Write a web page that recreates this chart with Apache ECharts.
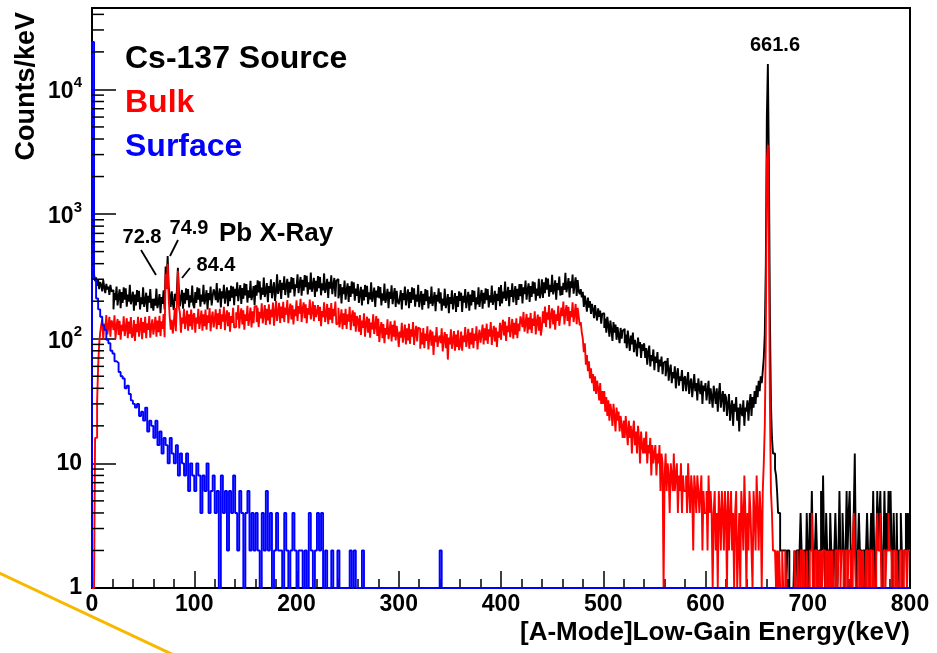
<!DOCTYPE html>
<html><head><meta charset="utf-8">
<script src="https://cdn.jsdelivr.net/npm/echarts@6/dist/echarts.min.js"></script>
<style>html,body{margin:0;padding:0;background:#fff}#c{width:937px;height:653px}</style>
</head><body><div id="c"></div>
<script>
// ---- data (Counts/keV; bins start at 0 keV) ----
const sourceBinWidth = 1;   // keV
const bulkBinWidth = 1;     // keV
const surfaceBinWidth = 2;  // keV
const seriesNames = ['Cs-137 Source', 'Bulk', 'Surface'];
const seriesColors = ['#000000', '#ff0000', '#0000ff'];
const sourceCounts = [
 24000,800,330,290,310,265,300,250,285,270,240,295,258,232,275,248,262,225,270,240,
 245,172,232,204,262,185,219,249,176,237,194,258,206,254,181,226,198,271,189,211,
 238,168,226,185,246,197,242,172,215,189,258,180,201,234,164,221,195,250,176,209,
 168,210,184,252,176,196,228,160,216,190,244,172,380,300,460,260,220,180,240,192,
 170,229,201,240,370,240,182,216,246,174,233,191,254,204,250,178,223,195,267,187,
 176,237,194,258,206,254,181,226,198,271,189,211,245,172,232,204,262,185,219,249,
 233,204,280,195,218,253,178,240,211,271,191,226,258,182,244,200,266,213,262,186,
 251,220,283,200,237,269,190,255,209,278,223,274,195,244,213,292,204,227,264,186,
 270,221,294,235,289,206,257,225,309,216,240,279,196,265,233,299,211,250,284,201,
 239,328,229,255,296,208,281,247,317,224,265,302,213,286,234,312,250,307,218,273,
 257,329,232,275,313,221,297,243,324,259,319,227,284,248,340,238,265,308,216,292,
 239,318,254,313,223,278,244,334,233,260,302,212,286,252,323,228,270,307,217,292,
 302,211,235,274,192,259,228,293,206,245,278,197,264,216,288,230,283,202,252,221,
 275,194,230,261,185,248,203,270,216,266,189,236,207,284,198,221,257,180,243,214,
 264,211,260,185,231,202,277,194,216,251,176,238,209,268,189,224,255,180,242,198,
 189,211,245,172,232,204,262,185,219,249,176,237,194,258,206,254,181,226,198,271,
 179,212,241,171,229,187,250,200,245,175,218,191,262,183,204,237,166,225,198,254,
 192,236,168,210,184,252,176,196,228,160,216,190,244,172,204,232,164,220,180,240,
 201,234,164,221,195,250,176,209,238,168,226,185,246,197,242,172,215,189,258,180,
 216,246,174,233,191,254,204,250,178,223,195,267,187,208,242,170,229,201,259,182,
 269,192,239,210,287,201,223,260,182,246,217,278,196,233,264,187,251,205,274,219,
 274,192,259,228,293,206,245,278,197,264,216,288,230,283,202,252,221,302,211,235,
 299,212,284,232,310,248,304,217,271,237,325,227,253,294,206,279,245,315,222,263,
 225,281,247,338,236,263,306,214,289,255,327,230,273,311,220,295,240,228,250,215,
 238,180,222,196,165,214,178,200,158,190,172,146,186,160,140,175,150,168,132,158,
 160,122,145,112,150,128,104,140,118,96,136,112,130,98,124,106,92,122,100,116,
 120,92,108,84,116,96,80,106,90,112,78,98,88,72,102,84,94,70,90,80,
 92,70,84,62,78,88,60,74,66,82,56,72,64,78,54,68,60,72,52,64,
 66,50,58,70,46,56,62,44,54,48,60,40,52,58,42,50,46,56,38,48,
 50,38,46,54,36,44,48,34,42,52,38,44,32,48,40,36,46,30,42,38,
 44,32,38,46,30,40,34,28,42,36,30,40,26,36,44,28,34,38,26,36,
 34,24,30,36,22,28,32,20,30,26,34,22,28,18,30,26,24,32,20,28,
 26,32,22,30,36,24,34,28,38,30,42,34,46,38,50,44,55,70,110,400,
 6000,16000,2500,150,30,16,12,12,9,8,6,4,4,2,2,2,2,2,2,0,
 2,2,0,0,0,0,0,2,0,2,2,0,2,4,2,0,2,2,0,4,
 2,0,4,2,6,2,0,2,4,2,0,2,2,6,2,8,2,0,4,2,
 2,0,4,2,2,0,2,4,2,0,2,6,2,2,4,2,0,2,6,2,
 4,6,2,0,2,4,12,2,0,2,4,2,2,0,2,2,0,2,4,2,
 0,2,4,2,6,2,0,2,6,2,4,6,2,0,2,6,2,4,2,6,
 2,6,2,0,4,2,2,4,0,2,2,4,2,0,2,2,4,2,4,2
];
const bulkCounts = [
 1,1,1,16,16,31,60,90,112,128,142,100,132,118,155,108,125,150,104,140,
 134,117,154,100,127,144,107,139,98,129,115,151,105,122,146,101,137,110,149,102,
 107,141,96,131,113,150,104,124,147,99,136,112,150,101,133,118,152,102,126,143,
 108,125,150,104,140,113,153,105,138,120,158,103,330,250,400,210,150,118,142,110,
 134,176,115,190,350,180,160,112,148,132,174,120,140,168,116,157,126,171,118,154,
 160,112,148,132,174,120,140,168,116,157,126,171,118,154,134,176,115,146,165,123,
 143,172,119,160,129,174,120,157,137,180,117,149,169,126,163,114,152,134,177,123,
 124,163,142,186,121,154,175,130,169,118,157,139,184,127,148,178,123,166,133,181,
 183,136,177,124,164,146,192,133,155,186,129,174,140,189,130,171,149,195,127,161,
 201,139,162,194,134,181,146,198,136,178,156,204,133,168,191,143,185,130,172,152,
 203,139,183,159,209,136,173,196,146,189,133,176,156,206,143,166,199,138,186,149,
 164,186,139,180,126,167,149,196,136,158,190,131,177,142,193,133,174,152,199,130,
 134,177,123,143,172,119,160,129,174,120,157,137,180,117,149,169,126,163,114,152,
 142,114,155,107,140,122,160,104,132,150,112,145,102,135,119,157,109,127,152,105,
 145,94,120,136,101,131,92,122,108,143,99,115,138,95,129,104,140,97,127,110,
 86,114,102,134,93,108,130,90,121,97,132,91,119,104,136,89,112,127,95,123,
 120,83,112,90,122,84,110,96,126,82,104,118,88,114,74,106,94,124,86,100,
 106,92,121,79,100,113,84,109,68,102,90,119,83,96,115,80,108,86,117,81,
 88,114,80,106,94,124,86,100,120,83,112,90,122,84,110,96,126,82,104,118,
 93,108,130,90,121,97,132,91,119,104,136,89,112,127,95,123,86,114,102,134,
 98,125,142,106,137,96,127,113,149,103,120,144,100,134,108,146,101,132,115,151,
 140,124,164,114,132,158,110,148,119,161,111,145,127,166,108,137,156,116,150,106,
 123,166,133,181,124,163,142,186,121,154,175,130,169,118,157,139,184,127,148,178,
 152,199,130,164,186,139,180,126,167,149,196,136,158,190,131,177,150,128,136,112,
 100,78,92,62,74,55,66,48,58,44,52,38,50,36,46,40,32,44,30,38,
 30,38,26,34,24,32,22,30,26,20,30,24,18,28,22,26,18,24,20,16,
 22,16,24,18,14,22,16,20,12,18,22,14,18,12,20,16,10,18,14,12,
 16,12,18,10,14,12,16,8,14,10,12,14,8,12,10,14,6,12,10,0,
 8,12,6,10,8,4,10,8,6,12,6,8,10,4,8,6,10,4,8,6,
 6,8,4,10,6,4,8,6,2,8,6,4,8,6,4,6,8,2,6,4,
 4,6,2,8,4,6,4,0,4,6,2,4,0,6,4,2,6,4,2,6,
 4,0,6,2,4,6,2,4,0,4,6,0,2,4,0,6,4,2,8,4,
 0,4,2,6,4,2,0,6,4,2,8,4,2,6,4,0,6,10,20,100,
 2700,3600,600,30,6,4,2,2,2,0,2,0,2,0,0,2,0,0,2,0,
 0,0,0,0,0,0,0,2,0,0,2,0,0,2,2,0,2,0,0,2,
 0,0,2,2,4,0,0,2,2,0,0,2,0,2,0,2,2,0,2,0,
 2,0,2,0,2,0,0,2,2,0,2,2,0,2,2,0,0,2,2,0,
 2,2,0,0,2,4,2,0,0,2,2,0,2,0,2,0,0,2,2,0,
 0,2,2,0,2,0,0,2,4,2,2,4,0,0,2,2,0,2,2,4,
 2,2,0,0,2,2,0,2,0,0,2,2,0,0,2,2,2,0,2,2
];
const surfaceCounts = [
 24000,300,210,172,150,128,118,98,92,80,
 76,66,64,54,50,48,40,42,36,32,
 30,28,30,24,26,22,28,18,22,20,
 16,22,14,18,12,16,14,10,16,12,
 10,14,8,12,10,8,12,6,10,8,
 6,10,8,4,8,6,10,4,6,8,
 4,6,0,8,4,6,2,6,4,8,
 4,2,6,4,0,4,6,2,4,2,
 4,2,0,4,2,6,2,4,0,2,
 4,2,2,0,4,2,0,2,4,2,
 0,2,2,0,2,0,4,2,0,2,
 4,2,4,0,2,0,0,2,0,0,
 2,0,0,0,0,0,2,0,2,0,
 0,0,2,0,0,0,0,0,0,0,
 0,0,0,0,0,0,0,0,0,0,
 0,0,0,0,0,0,0,0,0,0,
 0,0,0,0,0,0,0,0,0,0,
 2,0,0,0,0,0,0,0,0,0,
 0,0,0,0,0,0,0,0,0,0,
 0,0,0,0,0,0,0,0,0,0,
 0,0,0,0,0,0,0,0,0,0,
 0,0,0,0,0,0,0,0,0,0,
 0,0,0,0,0,0,0,0,0,0,
 0,0,0,0,0,0,0,0,0,0,
 0,0,0,0,0,0,0,0,0,0,
 0,0,0,0,0,0,0,0,0,0,
 0,0,0,0,0,0,0,0,0,0,
 0,0,0,0,0,0,0,0,0,0,
 0,0,0,0,0,0,0,0,0,0,
 0,0,0,0,0,0,0,0,0,0,
 0,0,0,0,0,0,0,0,0,0,
 0,0,0,0,0,0,0,0,0,0,
 0,0,0,0,0,0,0,0,0,0,
 0,0,0,0,0,0,0,0,0,0,
 0,0,0,0,0,0,0,0,0,0,
 0,0,0,0,0,0,0,0,0,0,
 0,0,0,0,0,0,0,0,0,0,
 0,0,0,0,0,0,0,0,0,0,
 0,0,0,0,0,0,0,0,0,0,
 0,0,0,0,0,0,0,0,0,0
];
const xMin = 0, xMax = 800, xInterval = 100;
const yMin = 1, yMax = 45000;
const xTitle = '[A-Mode]Low-Gain Energy(keV)';
const yTitle = 'Counts/keV';
const peakTexts = ['661.6', '72.8', '74.9', '84.4', 'Pb X-Ray'];

// ---- build ----
const FONT = '"Liberation Sans", Arial, Helvetica, sans-serif';
function toSteps(arr, w) {
  const pts = [[xMin, yMin]];
  arr.forEach((v, i) => pts.push([xMin + i * w, Math.max(v, yMin)]));
  pts.push([xMin + arr.length * w, Math.max(arr[arr.length - 1], yMin)]);
  return pts;
}
const minorVals = [];
for (let k = 0; k < 5; k++) for (let m = 2; m <= 9; m++) { const v = m * Math.pow(10, k); if (v < yMax) minorVals.push(v); }

const allCounts = [sourceCounts, bulkCounts, surfaceCounts];
const allWidths = [sourceBinWidth, bulkBinWidth, surfaceBinWidth];
const series = allCounts.map((arr, i) => ({
  name: seriesNames[i], type: 'line', step: 'end', data: toSteps(arr, allWidths[i]),
  showSymbol: false, symbol: 'none', clip: true, z: 2 + i,
  lineStyle: { color: seriesColors[i], width: 1.9 }, itemStyle: { color: seriesColors[i] }
}));
series.push({
  type: 'custom', silent: true, z: 6, clip: false,
  data: minorVals.map(v => [xMin, v]),
  renderItem: (params, api) => {
    const p = api.coord([xMin, api.value(1)]);
    return { type: 'line', shape: { x1: p[0], y1: p[1], x2: p[0] + 12, y2: p[1] }, style: { stroke: '#000', lineWidth: 1.5 } };
  }
});

const chart = echarts.init(document.getElementById('c'), null, { renderer: 'canvas' });
const txt = (text, x, y, size, align) => ({ type: 'text', x: x, y: y, z: 10,
  style: { text: text, font: 'bold ' + size + 'px ' + FONT, fill: '#000', align: align, textAlign: align, verticalAlign: 'middle', textVerticalAlign: 'middle' } });
chart.setOption({
  animation: false,
  backgroundColor: '#fff',
  grid: { left: 92, right: 27, top: 8, bottom: 65, show: true, borderColor: '#000', borderWidth: 2, backgroundColor: 'transparent' },
  legend: {
    orient: 'vertical', left: 115, top: 38, itemGap: 12, itemWidth: 0, itemHeight: 32,
    selectedMode: false, icon: 'none',
    data: seriesNames.map((n, i) => ({ name: n, icon: 'none', textStyle: { color: seriesColors[i] } })),
    textStyle: { fontSize: 32, fontWeight: 'bold', fontFamily: FONT, lineHeight: 32 }
  },
  xAxis: {
    type: 'value', min: xMin, max: xMax, interval: xInterval,
    axisLine: { show: true, lineStyle: { color: '#000', width: 2 } },
    axisTick: { show: true, inside: true, length: 17, lineStyle: { color: '#000', width: 1.5 } },
    minorTick: { show: true, splitNumber: 5, length: 9, lineStyle: { color: '#000', width: 1.5 } },
    splitLine: { show: false },
    axisLabel: { color: '#000', fontSize: 23, fontWeight: 'bold', fontFamily: FONT, margin: 5 }
  },
  yAxis: {
    type: 'log', logBase: 10, min: yMin, max: yMax,
    axisLine: { show: true, lineStyle: { color: '#000', width: 2 } },
    axisTick: { show: true, inside: true, length: 24, lineStyle: { color: '#000', width: 1.5 } },
    splitLine: { show: false },
    axisLabel: {
      margin: 10, color: '#000',
      formatter: v => {
        const e = Math.round(Math.log10(v));
        if (Math.abs(Math.log10(v) - e) > 1e-6) return '';
        if (e === 0) return '{p|1}';
        if (e === 1) return '{p|10}';
        return '{b|10}{e|' + e + '}';
      },
      rich: {
        p: { fontSize: 23, fontWeight: 'bold', fontFamily: FONT, color: '#000', lineHeight: 23 },
        b: { fontSize: 23, fontWeight: 'bold', fontFamily: FONT, color: '#000', lineHeight: 28, verticalAlign: 'bottom' },
        e: { fontSize: 15, fontWeight: 'bold', fontFamily: FONT, color: '#000', lineHeight: 28, verticalAlign: 'top' }
      }
    }
  },
  series: series,
  graphic: [
    { type: 'text', x: 27, y: 12, rotation: Math.PI / 2, z: 10,
      style: { text: yTitle, font: 'bold 27px ' + FONT, fill: '#000', align: 'right', textAlign: 'right', verticalAlign: 'middle', textVerticalAlign: 'middle' } },
    txt(xTitle, 910, 633, 26, 'right'),
    txt(peakTexts[0], 775, 45, 20, 'center'),
    txt(peakTexts[1], 142, 237, 20, 'center'),
    txt(peakTexts[2], 189, 228, 20, 'center'),
    txt(peakTexts[3], 216, 265, 20, 'center'),
    txt(peakTexts[4], 219, 234, 26, 'left'),
    { type: 'line', z: 10, shape: { x1: 141, y1: 250, x2: 156, y2: 275 }, style: { stroke: '#000', lineWidth: 1.8 } },
    { type: 'line', z: 10, shape: { x1: 178, y1: 240, x2: 170, y2: 256 }, style: { stroke: '#000', lineWidth: 1.8 } },
    { type: 'line', z: 10, shape: { x1: 190, y1: 268, x2: 182, y2: 278 }, style: { stroke: '#000', lineWidth: 1.8 } },
    { type: 'line', z: 10, shape: { x1: -5, y1: 571, x2: 178, y2: 657 }, style: { stroke: '#F9B800', lineWidth: 3 } }
  ]
});
</script>
</body></html>
